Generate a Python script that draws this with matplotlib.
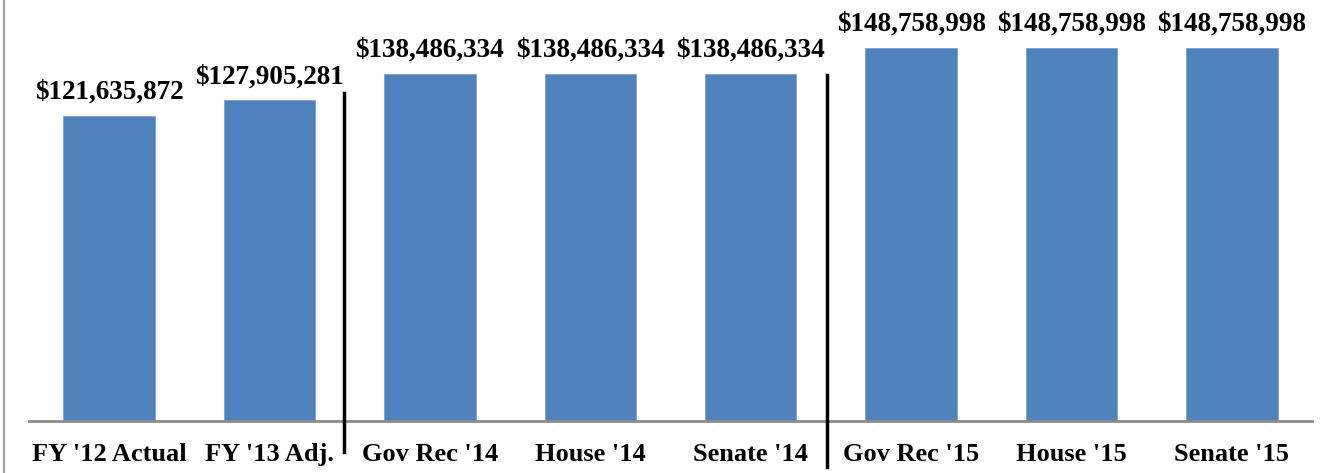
import matplotlib.pyplot as plt
from matplotlib.lines import Line2D
import matplotlib.transforms as mtransforms

plt.rcParams['font.family'] = ['Liberation Serif', 'DejaVu Serif']

categories = ["FY '12 Actual", "FY '13 Adj.", "Gov Rec '14", "House '14", "Senate '14",
              "Gov Rec '15", "House '15", "Senate '15"]
values = [121635872, 127905281, 138486334, 138486334, 138486334,
          148758998, 148758998, 148758998]
dividers = [1.467, 4.477]  # x positions of the group separators

W, H = 1320, 473
fig = plt.figure(figsize=(W / 100, H / 100), dpi=100)
# axes placed in pixels: x 29..1312, y from 421 (baseline) up 401 px
ax = fig.add_axes([29 / W, (H - 421) / H, (1312 - 29) / W, 401 / H])

x = range(len(categories))
bars = ax.bar(x, values, width=0.57, color='#4F81BD', edgecolor='#7FA3D3', linewidth=0.6)

for xi, v in zip(x, values):
    ax.annotate('${:,}'.format(v), (xi, v), xytext=(0, 8), textcoords='offset points',
                ha='center', va='bottom', fontsize=19.5, fontweight='bold')

ax.set_xlim(-0.5, len(categories) - 0.5)
ax.set_ylim(0, 160e6)
ax.set_xticks(list(x))
ax.set_xticklabels(categories, fontsize=19, fontweight='bold')
ax.tick_params(axis='x', length=0, pad=16)
ax.set_yticks([])
for s in ['top', 'right', 'left']:
    ax.spines[s].set_visible(False)
ax.spines['bottom'].set_color('#8c8c8c')
ax.spines['bottom'].set_linewidth(2)

# group separators (data x, figure y)
trans = mtransforms.blended_transform_factory(ax.transData, fig.transFigure)
spans = [(93, 452), (75, 467)]
for d, (top, bot) in zip(dividers, spans):
    fig.add_artist(Line2D([d, d], [1 - top / H, 1 - bot / H], transform=trans,
                          color='black', linewidth=2.5))

# left frame line
fig.add_artist(Line2D([4 / W, 4 / W], [0, 1], color='#a0a0a0', linewidth=1.5))

fig.savefig('out.png', dpi=100)
